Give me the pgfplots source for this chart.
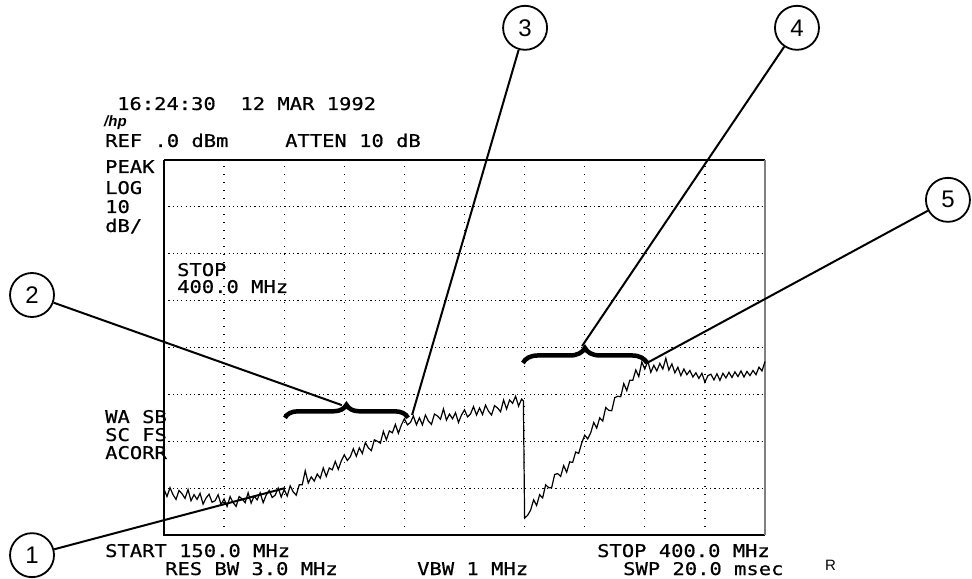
\documentclass[border=0pt]{standalone}
\usepackage{fontspec}
\setmainfont{Liberation Sans}
\newfontfamily\hpfont[FakeStretch=1.17,FakeBold=0.6]{DejaVu Sans Mono}
\usepackage{pgfplots}
\pgfplotsset{compat=1.18}
\usetikzlibrary{decorations.pathreplacing}

% analyzer screen text
\newcommand{\scr}[1]{{\hpfont\fontsize{17.5bp}{20bp}\selectfont #1}}

\begin{document}
\begin{tikzpicture}
\path[use as bounding box] (0,0) rectangle (972bp,579bp);
\begin{axis}[
    at={(164bp,44bp)}, anchor=south west,
    scale only axis, width=601bp, height=375bp,
    xmin=150, xmax=400, ymin=-80, ymax=0,
    xtick={175,200,...,375}, ytick={-70,-60,...,-10},
    xticklabels={}, yticklabels={},
    major tick length=0pt,
    axis line style={draw=none},
    grid=major,
    x grid style={black, line width=1.3bp, dash pattern=on 1.3bp off 6.7bp},
    y grid style={black, line width=1.2bp, dash pattern=on 1.2bp off 3.1bp},
    clip=false,
]
% frame
\draw[line width=2.8bp] (rel axis cs:0,1) -- (rel axis cs:1,1);
\draw[line width=1.5bp] (rel axis cs:0,1) -- (rel axis cs:0,0) -- (rel axis cs:1,0);
\draw[gray, line width=1.5bp] (rel axis cs:1,0) -- (rel axis cs:1,1);

\addplot[black, line width=1.2bp, mark=none] coordinates {
(150.00,-70.2) (151.25,-71.8) (152.50,-69.9) (153.75,-71.4) (155.00,-72.4) (156.25,-70.5) (157.50,-71.2) (158.75,-72.2) (160.00,-70.3) (161.25,-72.7) (162.50,-71.4) (163.75,-72.4) (165.00,-71.1) (166.25,-73.4) (167.50,-72.1) (168.75,-71.3) (170.00,-73.0) (171.25,-72.7) (172.50,-71.4) (173.75,-73.5) (175.00,-72.3) (176.25,-73.9) (177.50,-71.8) (178.75,-73.1) (180.00,-73.9) (181.25,-71.8) (182.50,-72.3) (183.75,-73.1) (185.00,-71.0) (186.25,-73.2) (187.50,-71.7) (188.75,-72.5) (190.00,-71.0) (191.25,-73.1) (192.50,-71.5) (193.75,-70.5) (195.00,-72.0) (196.25,-71.5) (197.50,-70.0) (198.75,-71.9)
(200.00,-70.3) (201.25,-71.7) (202.50,-69.5) (203.75,-70.8) (205.00,-71.5) (206.25,-69.3) (207.50,-69.3) (208.75,-66.3) (210.00,-68.9) (211.25,-67.6) (212.50,-68.5) (213.75,-67.0) (215.00,-67.9) (216.25,-65.7) (217.50,-67.5) (218.75,-65.7) (220.00,-66.1) (221.25,-64.3) (222.50,-66.0) (223.75,-64.2) (225.00,-62.9) (226.25,-64.1) (227.50,-63.3) (228.75,-61.6) (230.00,-63.2) (231.25,-61.4) (232.50,-62.6) (233.75,-60.3) (235.00,-61.4) (236.25,-62.0) (237.50,-59.7) (238.75,-60.0) (240.00,-60.4) (241.25,-57.9) (242.50,-59.7) (243.75,-57.8) (245.00,-58.2) (246.25,-56.4) (247.50,-58.3) (248.75,-56.5)
(250.00,-55.2) (251.25,-56.5) (252.50,-56.0) (253.75,-54.6) (255.00,-56.5) (256.25,-55.0) (257.50,-56.5) (258.75,-54.4) (260.00,-55.7) (261.25,-56.4) (262.50,-54.2) (263.75,-54.6) (265.00,-55.3) (266.25,-53.1) (267.50,-55.5) (268.75,-54.2) (270.00,-55.2) (271.25,-53.9) (272.50,-56.0) (273.75,-54.4) (275.00,-53.3) (276.25,-54.8) (277.50,-54.2) (278.75,-52.6) (280.00,-54.4) (281.25,-52.9) (282.50,-54.3) (283.75,-52.3) (285.00,-53.6) (286.25,-54.4) (287.50,-52.4) (288.75,-52.9) (290.00,-53.7) (291.25,-51.2) (292.50,-53.1) (293.75,-51.2) (295.00,-51.9) (296.25,-50.4) (297.50,-52.5) (298.75,-51.0) (299.50,-51.4)
(300.00,-76.4) (301.25,-75.8) (302.50,-74.7) (303.75,-72.5) (305.00,-73.7) (306.25,-71.4) (307.50,-72.1) (308.75,-69.3) (310.00,-69.9) (311.25,-69.9) (312.50,-67.1) (313.75,-66.9) (315.00,-67.5) (316.25,-65.2) (317.50,-66.6) (318.75,-64.4) (320.00,-64.5) (321.25,-62.3) (322.50,-62.6) (323.75,-60.4) (325.00,-58.7) (326.25,-59.5) (327.50,-58.2) (328.75,-56.0) (330.00,-57.2) (331.25,-55.0) (332.50,-55.7) (333.75,-52.8) (335.00,-53.4) (336.25,-53.5) (337.50,-50.7) (338.75,-50.4) (340.00,-50.5) (341.25,-47.7) (342.50,-49.2) (343.75,-47.0) (345.00,-47.0) (346.25,-44.8) (347.50,-46.2) (348.75,-43.1)
(350.00,-44.6) (351.25,-42.9) (352.50,-45.3) (353.75,-43.8) (355.00,-45.0) (356.25,-43.4) (357.50,-44.6) (358.75,-42.3) (360.00,-44.8) (361.25,-43.5) (362.50,-45.4) (363.75,-44.2) (365.00,-46.0) (366.25,-44.6) (367.50,-45.8) (368.75,-44.9) (370.00,-46.3) (371.25,-45.4) (372.50,-46.6) (373.75,-45.5) (375.00,-47.4) (376.25,-46.0) (377.50,-45.7) (378.75,-46.9) (380.00,-45.6) (381.25,-47.0) (382.50,-45.5) (383.75,-46.5) (385.00,-45.3) (386.25,-46.4) (387.50,-45.2) (388.75,-46.2) (390.00,-45.0) (391.25,-46.3) (392.50,-45.1) (393.75,-46.0) (395.00,-44.9) (396.25,-45.8) (397.50,-44.2) (398.75,-45.0) (400.00,-43.0)
};

% braces
\draw[decorate, decoration={brace, amplitude=13bp}, line width=4.5bp]
  (axis cs:200.3,-55.0) -- (axis cs:251.5,-55.0);
\draw[decorate, decoration={brace, amplitude=15bp}, line width=4.5bp]
  (axis cs:299.3,-43.3) -- (axis cs:350.9,-43.3);

% callouts
\tikzset{callout/.style={circle, draw, line width=1.8bp, minimum size=44bp,
  inner sep=0pt, font=\fontsize{24bp}{24bp}\selectfont}}
\node[callout] (c1) at (axis cs:95.1,-84.3) {1};
\node[callout] (c2) at (axis cs:95.1,-28.8) {2};
\node[callout] (c3) at (axis cs:300.2,28.2) {3};
\node[callout] (c4) at (axis cs:413.3,28.2) {4};
\node[callout] (c5) at (axis cs:476.1,-8.5) {5};
\draw[line width=2bp] (c1) -- (axis cs:200.3,-70.0);
\draw[line width=2bp] (c2) -- (axis cs:224.0,-52.3);
\draw[line width=2bp] (c3) -- (axis cs:253.2,-54.4);
\draw[line width=2bp] (c4) -- (axis cs:323.9,-39.7);
\draw[line width=2bp] (c5) -- (axis cs:350.9,-43.3);
\end{axis}

% screen annotations
\begin{scope}[every node/.style={anchor=base west, inner sep=0pt}]
\node at (117bp,469bp) {\scr{16:24:30~~12 MAR 1992}};
\node at (104bp,452bp) {\fontsize{15bp}{15bp}\selectfont\bfseries\itshape /hp};
\node at (105bp,432bp) {\scr{REF .0 dBm}};
\node at (285bp,432bp) {\scr{ATTEN 10 dB}};
\node at (105bp,406bp) {\scr{PEAK}};
\node at (105bp,385bp) {\scr{LOG}};
\node at (105bp,366bp) {\scr{10}};
\node at (105bp,347bp) {\scr{dB/}};
\node at (177bp,303bp) {\scr{STOP}};
\node at (177bp,286bp) {\scr{400.0 MHz}};
\node at (105bp,156bp) {\scr{WA SB}};
\node at (105bp,138bp) {\scr{SC FS}};
\node at (105bp,120bp) {\scr{ACORR}};
\node at (105bp,22bp) {\scr{START 150.0 MHz}};
\node at (597bp,22bp) {\scr{STOP 400.0 MHz}};
\node at (165bp,4bp) {\scr{RES BW 3.0 MHz}};
\node at (417bp,4bp) {\scr{VBW 1 MHz}};
\node at (623bp,4bp) {\scr{SWP 20.0 msec}};
\node at (825bp,9bp) {\fontsize{15bp}{15bp}\selectfont R};
\end{scope}
\end{tikzpicture}
\end{document}
